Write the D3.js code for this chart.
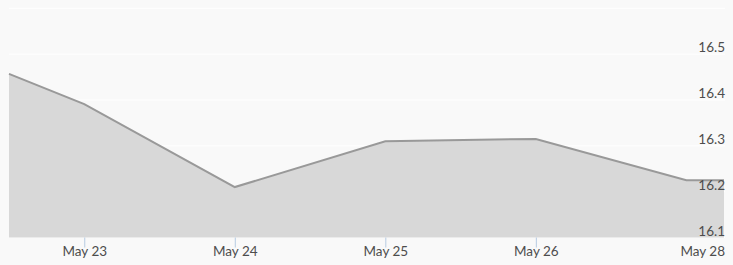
<!DOCTYPE html>
<html>
<head>
<meta charset="utf-8">
<script src="https://cdn.jsdelivr.net/npm/d3@7"></script>
<style>
  html, body { margin: 0; padding: 0; background: #f9f9f9; }
  svg { display: block; font-family: Lato, "Open Sans", sans-serif; }
</style>
</head>
<body>
<svg id="drawspace" width="733" height="265"></svg>
<script>
// price points
const dates = ["2019-05-22 12:00", "2019-05-23 00:00", "2019-05-24 00:00",
  "2019-05-25 00:00", "2019-05-26 00:00", "2019-05-27 00:00", "2019-05-27 06:00"];
const prices = [16.457, 16.391, 16.21, 16.31, 16.315, 16.225, 16.225];

const xTickDates = ["2019-05-23 00:00", "2019-05-24 00:00", "2019-05-25 00:00", "2019-05-26 00:00"];
const xTickLabels = ["May 23", "May 24", "May 25", "May 26"];
const xEndLabel = "May 28";

const yDomain = [16.1, 16.6];
const yGrid = [16.1, 16.2, 16.3, 16.4, 16.5, 16.6];
const yLabels = [16.1, 16.2, 16.3, 16.4, 16.5];

let drawspace = d3.select("#drawspace");
const parse = d3.timeParse("%Y-%m-%d %H:%M");

const plotLeft = 9, plotRight = 724, plotTop = 8.3, plotBottom = 237.5;

const data = dates.map((d, i) => ({ date: parse(d), price: prices[i] }));

var xScale = d3.scaleTime()
  .domain(d3.extent(data, (d) => d.date))
  .range([plotLeft, plotRight]);

var yScale = d3.scaleLinear()
  .domain(yDomain)
  .range([plotBottom, plotTop]);

// grid
drawspace.append("g")
  .selectAll("line")
  .data(yGrid)
  .enter()
  .append("line")
  .attr("x1", plotLeft)
  .attr("x2", plotRight + 1)
  .attr("y1", (d) => yScale(d))
  .attr("y2", (d) => yScale(d))
  .attr("stroke", "#ffffff")
  .attr("stroke-width", 1);

var area = d3.area()
  .x((d) => xScale(d.date))
  .y0(yScale(yDomain[0]))
  .y1((d) => yScale(d.price));

var line = d3.line()
  .x((d) => xScale(d.date))
  .y((d) => yScale(d.price));

drawspace.append("path")
  .datum(data)
  .attr("d", area)
  .attr("fill", "#d8d8d8");

drawspace.append("path")
  .datum(data)
  .attr("d", line)
  .attr("fill", "none")
  .attr("stroke", "#999999")
  .attr("stroke-width", 2);

// x axis
var xAxis = d3.axisBottom(xScale)
  .tickValues(xTickDates.map(parse))
  .tickFormat((d, i) => xTickLabels[i])
  .tickSizeInner(10)
  .tickSizeOuter(0);

var gx = drawspace.append("g")
  .attr("transform", "translate(0," + plotBottom + ")")
  .call(xAxis);
gx.select(".domain").remove();
gx.selectAll(".tick line").attr("stroke", "#b6cbe2");
gx.selectAll(".tick text")
  .attr("y", 18.5)
  .attr("dy", 0)
  .attr("fill", "#4d4d4d")
  .attr("font-size", "13.5px")
  .attr("font-family", "Lato, sans-serif");

drawspace.append("text")
  .attr("x", plotRight + 1)
  .attr("y", plotBottom + 18.5)
  .attr("text-anchor", "end")
  .attr("fill", "#4d4d4d")
  .attr("font-size", "13.5px")
  .text(xEndLabel);

// y labels, right side, sitting on the grid lines
drawspace.append("g")
  .selectAll("text")
  .data(yLabels)
  .enter()
  .append("text")
  .attr("x", plotRight + 1)
  .attr("y", (d) => yScale(d) - 2)
  .attr("text-anchor", "end")
  .attr("fill", "#4d4d4d")
  .attr("font-size", "13.5px")
  .text((d) => d3.format(".1f")(d));
</script>
</body>
</html>
